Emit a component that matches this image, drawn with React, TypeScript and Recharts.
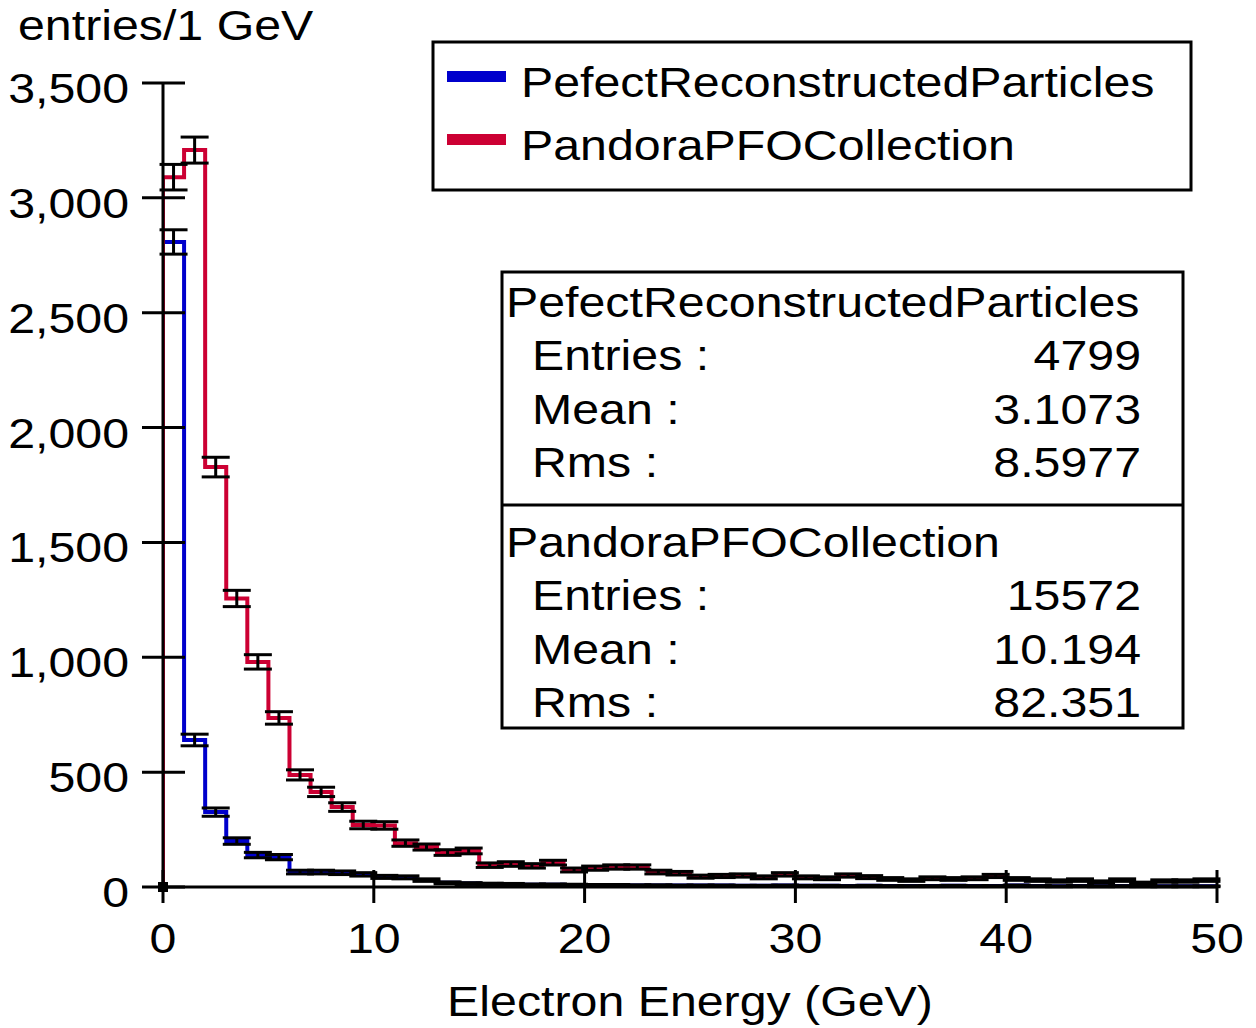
import React from "react";
import {
  ComposedChart,
  ErrorBar,
  Line,
  ReferenceDot,
  Scatter,
  XAxis,
  YAxis,
} from "recharts";

// bin counts, 1 GeV bins from 0 to 50
const binEdges = Array.from({ length: 51 }, (_, i) => i);

const perfectCounts = [
  2808, 640, 326, 200, 139, 130, 65, 65, 62, 55, 44, 42, 30, 18, 15, 13, 12,
  10, 10, 9, 8, 8, 7, 7, 6, 6, 6, 5, 5, 6, 5, 5, 4, 5, 4, 4, 4, 5, 4, 4, 6, 4,
  3, 4, 3, 4, 3, 3, 3, 3,
];

const pandoraCounts = [
  3090, 3208, 1828, 1256, 980, 736, 488, 414, 348, 270, 268, 191, 174, 150,
  157, 95, 100, 92, 106, 74, 82, 87, 87, 65, 60, 45, 48, 50, 42, 55, 42, 38,
  50, 43, 35, 30, 38, 35, 38, 48, 35, 30, 26, 30, 22, 30, 17, 26, 26, 30,
];

const xTicks = [0, 10, 20, 30, 40, 50];
const yTicks = [0, 500, 1000, 1500, 2000, 2500, 3000, 3500];

const seriesNames = ["PefectReconstructedParticles", "PandoraPFOCollection"];
const seriesColors = ["#0000cc", "#cc0033"];
const statLabels = ["Entries :", "Mean :", "Rms :"];
const perfectStats = ["4799", "3.1073", "8.5977"];
const pandoraStats = ["15572", "10.194", "82.351"];

const FONT = '"Liberation Sans", Arial, sans-serif';
const SX = 1.15; // glyphs in the original are a bit wide

// step outline: start from zero at the first edge, close on the last edge
function steps(counts: number[]) {
  const pts = [{ x: binEdges[0], y: 0 }];
  counts.forEach((c, i) => pts.push({ x: binEdges[i], y: c }));
  pts.push({ x: binEdges[counts.length], y: counts[counts.length - 1] });
  return pts;
}

// poisson errors at bin centres
function errors(counts: number[]) {
  return counts.map((c, i) => ({
    x: (binEdges[i] + binEdges[i + 1]) / 2,
    y: c,
    err: Math.sqrt(c),
  }));
}

function fmt(v: number) {
  return v.toLocaleString("en-US");
}

function Txt({
  x,
  y,
  anchor = "start",
  size = 42,
  children,
}: {
  x: number;
  y: number;
  anchor?: "start" | "middle" | "end";
  size?: number;
  children: React.ReactNode;
}) {
  return (
    <text
      transform={`translate(${x},${y}) scale(${SX},1)`}
      textAnchor={anchor}
      fontSize={size}
      fontFamily={FONT}
      fill="#000"
    >
      {children}
    </text>
  );
}

function YTick(props: any) {
  const { x, y, payload } = props;
  return (
    <g>
      <line x1={x - 21} x2={x + 22} y1={y} y2={y} stroke="#000" strokeWidth={3} />
      <Txt x={x - 34} y={y + 20} anchor="end">
        {fmt(payload.value)}
      </Txt>
    </g>
  );
}

function XTick(props: any) {
  const { x, y, payload } = props;
  return (
    <g>
      <line x1={x} x2={x} y1={y - 17} y2={y + 16} stroke="#000" strokeWidth={3} />
      <Txt x={x} y={y + 66} anchor="middle">
        {payload.value}
      </Txt>
    </g>
  );
}

const noShape = () => <g />;

function StatBlock({ top, name, values }: { top: number; name: string; values: string[] }) {
  return (
    <g>
      <Txt x={506} y={top}>
        {name}
      </Txt>
      {statLabels.map((l, i) => (
        <g key={l}>
          <Txt x={532} y={top + 53 + i * 53.5}>
            {l}
          </Txt>
          <Txt x={1141} y={top + 53 + i * 53.5} anchor="end">
            {values[i]}
          </Txt>
        </g>
      ))}
    </g>
  );
}

export default function App() {
  return (
    <div
      style={{
        position: "absolute",
        left: 0,
        top: 0,
        width: 1256,
        height: 1028,
        background: "#fff",
      }}
    >
      <ComposedChart
        width={1256}
        height={1028}
        margin={{ top: 83, right: 39, bottom: 0, left: 0 }}
      >
        <XAxis
          type="number"
          dataKey="x"
          domain={[0, 50]}
          ticks={xTicks}
          interval={0}
          height={141}
          allowDataOverflow
          axisLine={{ stroke: "#000", strokeWidth: 3 }}
          tickLine={false}
          tickSize={0}
          tickMargin={0}
          tick={<XTick />}
        />
        <YAxis
          type="number"
          domain={[0, 3500]}
          ticks={yTicks}
          interval={0}
          width={163}
          allowDataOverflow
          axisLine={{ stroke: "#000", strokeWidth: 3 }}
          tickLine={false}
          tickSize={0}
          tickMargin={0}
          tick={<YTick />}
        />
        <Line
          data={steps(perfectCounts)}
          dataKey="y"
          type="stepAfter"
          stroke={seriesColors[0]}
          strokeWidth={4}
          dot={false}
          isAnimationActive={false}
        />
        <Line
          data={steps(pandoraCounts)}
          dataKey="y"
          type="stepAfter"
          stroke={seriesColors[1]}
          strokeWidth={4}
          dot={false}
          isAnimationActive={false}
        />
        <Scatter data={errors(perfectCounts)} dataKey="y" shape={noShape} isAnimationActive={false}>
          <ErrorBar dataKey="err" direction="y" width={14} stroke="#000" strokeWidth={3} />
        </Scatter>
        <Scatter data={errors(pandoraCounts)} dataKey="y" shape={noShape} isAnimationActive={false}>
          <ErrorBar dataKey="err" direction="y" width={14} stroke="#000" strokeWidth={3} />
        </Scatter>
        <ReferenceDot
          x={0}
          y={0}
          ifOverflow="visible"
          shape={(p: any) => (
            <rect x={p.cx - 5} y={p.cy - 5} width={10} height={10} fill="#000" />
          )}
        />
      </ComposedChart>

      <svg
        width={1256}
        height={1028}
        style={{ position: "absolute", left: 0, top: 0, pointerEvents: "none" }}
      >
        <Txt x={18} y={40}>
          entries/1 GeV
        </Txt>
        <Txt x={690} y={1016} anchor="middle">
          Electron Energy (GeV)
        </Txt>

        {/* legend */}
        <rect x={433} y={42} width={758} height={148} fill="#fff" stroke="#000" strokeWidth={3} />
        {seriesNames.map((n, i) => (
          <g key={n}>
            <rect x={447} y={71 + i * 63} width={59} height={11} fill={seriesColors[i]} />
            <Txt x={521} y={97 + i * 63}>
              {n}
            </Txt>
          </g>
        ))}

        {/* stats box */}
        <rect x={502} y={272} width={681} height={456} fill="#fff" stroke="#000" strokeWidth={3} />
        <line x1={502} x2={1183} y1={505} y2={505} stroke="#000" strokeWidth={3} />
        <StatBlock top={317} name={seriesNames[0]} values={perfectStats} />
        <StatBlock top={557} name={seriesNames[1]} values={pandoraStats} />
      </svg>
    </div>
  );
}
